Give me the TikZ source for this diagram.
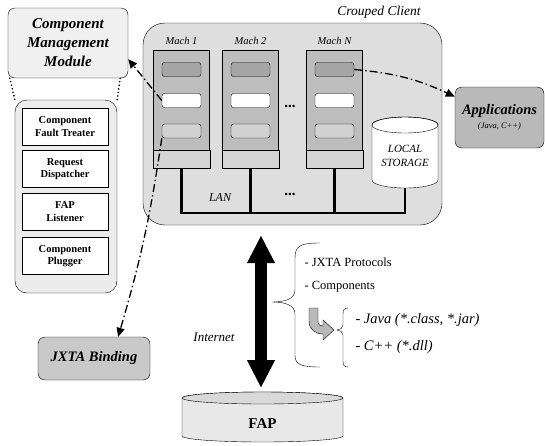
\documentclass[tikz,border=0pt]{standalone}
\usepackage{fontspec}
\setmainfont{Liberation Serif}
\usetikzlibrary{arrows.meta}
\begin{document}
\begin{tikzpicture}[x=1pt,y=-1pt,font=\fontsize{12.5}{14}\selectfont,
  titlebox/.style={draw,rounded corners=7,inner sep=2,align=center,font=\bfseries\itshape\fontsize{14.5}{17}\selectfont},
  panelbox/.style={draw,rounded corners=12,fill=gray!15,inner sep=0},
  toolbox/.style={draw,fill=white,minimum width=86,minimum height=37,inner sep=1,align=center,font=\bfseries\fontsize{10.5}{12.5}\selectfont},
  machbox/.style={draw,fill=gray!52,minimum width=56,minimum height=118,inner sep=0},
  slotbox/.style={draw,rounded corners=2.5,minimum width=39,minimum height=14,inner sep=0},
  machlabel/.style={font=\itshape\fontsize{10.5}{12}\selectfont},
  lanwire/.style={line width=2.4pt},
  dashlink/.style={line width=1.3pt,dash pattern=on 8pt off 3pt on 1.5pt off 3pt,-{Triangle[length=9pt,width=8pt]}},
  dotlink/.style={line width=1.8pt,line cap=round,dash pattern=on 0pt off 3.6pt},
  netarrow/.style={line width=12pt,{Triangle[length=28pt,width=26pt]}-{Triangle[length=28pt,width=26pt]}}]
\useasboundingbox (0,0) rectangle (545,445);
\node[titlebox,fill=gray!12,minimum width=120,minimum height=70,font=\bfseries\itshape\fontsize{15}{19}\selectfont] (cmm) at (68,43) {Component\\Management\\Module};
\node[panelbox,minimum width=102,minimum height=193] (panel) at (66,196.5) {};
\node[toolbox] (fault) at (65,126.5) {Component\\Fault Treater};
\node[toolbox] (dispatch) at (65,169) {Request\\Dispatcher};
\node[toolbox] (listener) at (65,211.5) {FAP\\Listener};
\node[toolbox] (plugger) at (65,256) {Component\\Plugger};
\draw[dotlink] ([xshift=2pt]cmm.south west) -- (panel.north west);
\draw[dotlink] ([xshift=-8pt]cmm.south east) -- (panel.north east);
\node[draw,rounded corners=22,fill=gray!26,minimum width=299,minimum height=202,inner sep=0] (client) at (292.5,124) {};
\node[font=\itshape\fontsize{13.5}{15}\selectfont] (clientlabel) at (379,12) {Crouped Client};
\node[machbox] (mach1) at (181.5,109) {};
\draw[fill=gray!34] (mach1.south west) rectangle ([yshift=18pt]mach1.south east);
\node[machlabel] (mach1label) at (181.5,41) {Mach 1};
\node[slotbox,fill=gray!70] (m1a) at (181.5,69.5) {};
\node[slotbox,fill=white] (m1b) at (181.5,100.5) {};
\node[slotbox,fill=gray!36] (m1c) at (181.5,131) {};
\node[machbox] (mach2) at (250.5,109) {};
\draw[fill=gray!34] (mach2.south west) rectangle ([yshift=18pt]mach2.south east);
\node[machlabel] (mach2label) at (250.5,41) {Mach 2};
\node[slotbox,fill=gray!70] (m2a) at (250.5,69.5) {};
\node[slotbox,fill=white] (m2b) at (250.5,100.5) {};
\node[slotbox,fill=gray!36] (m2c) at (250.5,131) {};
\node[machbox] (machN) at (334.5,109) {};
\draw[fill=gray!34] (machN.south west) rectangle ([yshift=18pt]machN.south east);
\node[machlabel] (machNlabel) at (334.5,41) {Mach N};
\node[slotbox,fill=gray!70] (mNa) at (334.5,69.5) {};
\node[slotbox,fill=white] (mNb) at (334.5,100.5) {};
\node[slotbox,fill=gray!36] (mNc) at (334.5,131) {};
\node[font=\bfseries\fontsize{15}{16}\selectfont] (dotsup) at (290,106) {...};
\node[font=\bfseries\fontsize{15}{16}\selectfont] (dotslan) at (290,194) {...};
\draw[fill=white] (372,125) -- (372,180) arc[start angle=180,end angle=360,x radius=33pt,y radius=8pt] -- (438,125) arc[start angle=0,end angle=180,x radius=33pt,y radius=8pt] -- cycle;
\draw (405,125) ellipse[x radius=33pt,y radius=8pt];
\node[font=\itshape\fontsize{11}{13.5}\selectfont,align=center] (storage) at (405,156) {LOCAL\\STORAGE};
\coordinate (storagefoot) at (405,188);
\coordinate (bus) at (0,213);
\draw[lanwire] (mach1.south) -- (mach1.south |- bus) -- (storagefoot |- bus) -- (storagefoot);
\draw[lanwire] (mach2.south) -- (mach2.south |- bus);
\draw[lanwire] (machN.south) -- (machN.south |- bus);
\node[font=\itshape\fontsize{12}{14}\selectfont] (lan) at (220,198) {LAN};
\node[titlebox,fill=gray!55,minimum width=89,minimum height=61] (apps) at (499.5,117.5) {Applications\\[-3pt]{\mdseries\fontsize{8.5}{9}\selectfont(Java, C++)}};
\node[titlebox,fill=gray!42,minimum width=112,minimum height=43] (jxta) at (94,358.5) {JXTA Binding};
\draw[dashlink] (m1b.west) -- (cmm.-15);
\draw[dashlink] (m1c.south west) to[bend left=4] (jxta.42);
\draw[dashlink] (mNa.east) to[bend left=10] (apps.155);
\draw[fill=gray!18] (182,398) -- (182,436) arc[start angle=180,end angle=360,x radius=80.5pt,y radius=6pt] -- (343,398) arc[start angle=0,end angle=180,x radius=80.5pt,y radius=6pt] -- cycle;
\draw[fill=gray!30] (262.5,398) ellipse[x radius=80.5pt,y radius=6pt];
\node[font=\bfseries\fontsize{15}{17}\selectfont] (fap) at (262.5,424) {FAP};
\coordinate (faptop) at (261,392);
\draw[netarrow,shorten <=10pt,shorten >=4pt] (faptop |- client.south) -- (faptop);
\node[font=\itshape\fontsize{13}{15}\selectfont] (internet) at (214,337) {Internet};
\draw (320,243) .. controls (300,243) and (295,246) .. (295,258) -- (295,290) .. controls (295,299) and (285,302) .. (272,302) .. controls (285,302) and (295,305) .. (295,314) -- (295,355) .. controls (295,364) and (300,367) .. (320,367);
\node[anchor=west] (protocols) at (301,262) {- JXTA Protocols};
\node[anchor=west] (components) at (301,287) {- Components};
\filldraw[fill=gray!55] (309,308) -- (318,308) -- (318,321) .. controls (318,325) and (320,326) .. (323,326) -- (323,320) -- (334,330) -- (323,340) -- (323,334) .. controls (315,334) and (309,329) .. (309,321) -- cycle;
\draw (348,308) .. controls (344,308) and (343,310) .. (343,314) -- (343,325) .. controls (343,328) and (340,330) .. (337,330) .. controls (340,330) and (343,332) .. (343,335) -- (343,361) .. controls (343,365) and (344,367) .. (348,367);
\node[anchor=west,font=\itshape\fontsize{14.5}{16}\selectfont] (javaitem) at (352,320) {- Java (*.class, *.jar)};
\node[anchor=west,font=\itshape\fontsize{14.5}{16}\selectfont] (cppitem) at (352,347) {- C++ (*.dll)};
\end{tikzpicture}
\end{document}
